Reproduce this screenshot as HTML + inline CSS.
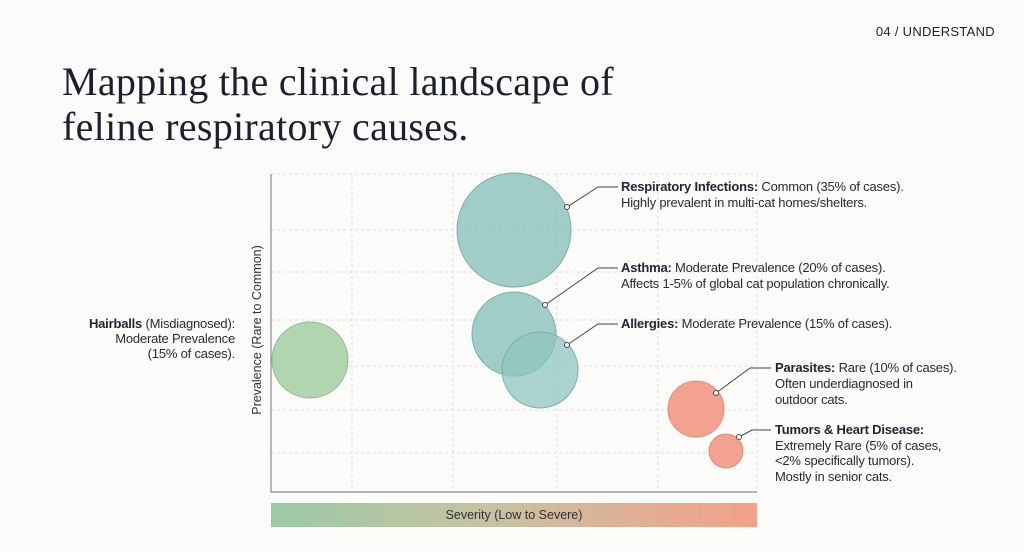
<!DOCTYPE html>
<html><head><meta charset="utf-8"><style>
html,body{margin:0;padding:0;background:#fbfbf9;}
body{width:1024px;height:552px;position:relative;overflow:hidden;font-family:"Liberation Sans",sans-serif;color:#222;}
.t{position:absolute;font-size:13px;line-height:16px;white-space:nowrap;letter-spacing:-0.2px;color:#2a2a2a}
b{font-weight:bold;color:#1f2430}
</style></head><body>
<div style="position:absolute;right:29px;top:24px;font-size:13px;letter-spacing:0.3px;color:#222">04 / UNDERSTAND</div>
<div style="position:absolute;left:62px;top:59px;font-family:'Liberation Serif',serif;font-size:40px;line-height:45px;color:#1b1f2e;letter-spacing:0.3px">Mapping the clinical landscape of<br>feline respiratory causes.</div>
<svg width="1024" height="552" style="position:absolute;left:0;top:0">
<defs><linearGradient id="g" x1="0" x2="1"><stop offset="0" stop-color="#9ccaa6"/><stop offset="0.45" stop-color="#c7c2a2"/><stop offset="1" stop-color="#f4a08a"/></linearGradient></defs>
<g stroke="#dcdcdc" stroke-dasharray="3,3" stroke-width="1">
<line x1="271" y1="174" x2="757" y2="174"/><line x1="271" y1="230" x2="757" y2="230"/><line x1="271" y1="272" x2="757" y2="272"/><line x1="271" y1="320" x2="757" y2="320"/><line x1="271" y1="366" x2="757" y2="366"/><line x1="271" y1="410" x2="757" y2="410"/><line x1="271" y1="453" x2="757" y2="453"/>
<line x1="352" y1="174" x2="352" y2="492"/><line x1="453" y1="174" x2="453" y2="492"/><line x1="557" y1="174" x2="557" y2="492"/><line x1="658" y1="174" x2="658" y2="492"/><line x1="757" y1="174" x2="757" y2="492"/>
</g>
<polyline points="271,174 271,492 757,492" fill="none" stroke="#888" stroke-width="1.2"/>
<g stroke-width="1">
<circle cx="514" cy="230" r="57" fill="#8fc4bf" fill-opacity="0.85" stroke="#7aaea9"/>
<circle cx="514" cy="334" r="42" fill="#8fc4bf" fill-opacity="0.85" stroke="#7aaea9"/>
<circle cx="540" cy="370" r="38" fill="#8fc4bf" fill-opacity="0.75" stroke="#7aaea9"/>
<circle cx="310" cy="360" r="38" fill="#a9d0a6" fill-opacity="0.9" stroke="#93b993"/>
<circle cx="696" cy="409" r="28" fill="#f2a28f" stroke="#e08f7c"/>
<circle cx="726" cy="451" r="17" fill="#f2a28f" stroke="#e08f7c"/>
</g>
<g fill="none" stroke="#444" stroke-width="1">
<polyline points="567,207 598,187 618,187"/><polyline points="545,305 598,268 618,268"/><polyline points="567,345 598,324 618,324"/><polyline points="716,393 750,368 771,368"/><polyline points="739,437 752,430 771,430"/>
</g>
<g fill="#fff" stroke="#444" stroke-width="1">
<circle cx="567" cy="207" r="2.5"/><circle cx="545" cy="305" r="2.5"/><circle cx="567" cy="345" r="2.5"/><circle cx="716" cy="393" r="2.5"/><circle cx="739" cy="437" r="2.5"/>
</g>
<rect x="271" y="503" width="486" height="24" fill="url(#g)"/>
<text x="514" y="519" text-anchor="middle" font-size="12.5" fill="#333" font-family="Liberation Sans">Severity (Low to Severe)</text>
<text transform="translate(261,330) rotate(-90)" text-anchor="middle" font-size="12.5" fill="#333" font-family="Liberation Sans">Prevalence (Rare to Common)</text>
</svg>
<div class="t" style="left:621px;top:179px"><b>Respiratory Infections:</b> Common (35% of cases).<br>Highly prevalent in multi-cat homes/shelters.</div>
<div class="t" style="left:621px;top:260px"><b>Asthma:</b> Moderate Prevalence (20% of cases).<br>Affects 1-5% of global cat population chronically.</div>
<div class="t" style="left:621px;top:316px"><b>Allergies:</b> Moderate Prevalence (15% of cases).</div>
<div class="t" style="left:775px;top:360px"><b>Parasites:</b> Rare (10% of cases).<br>Often underdiagnosed in<br>outdoor cats.</div>
<div class="t" style="left:775px;top:422px;line-height:15.5px"><b>Tumors &amp; Heart Disease:</b><br>Extremely Rare (5% of cases,<br>&lt;2% specifically tumors).<br>Mostly in senior cats.</div>
<div class="t" style="right:789px;top:316px;text-align:right;line-height:15px"><b>Hairballs</b> (Misdiagnosed):<br>Moderate Prevalence<br>(15% of cases).</div>
</body></html>
